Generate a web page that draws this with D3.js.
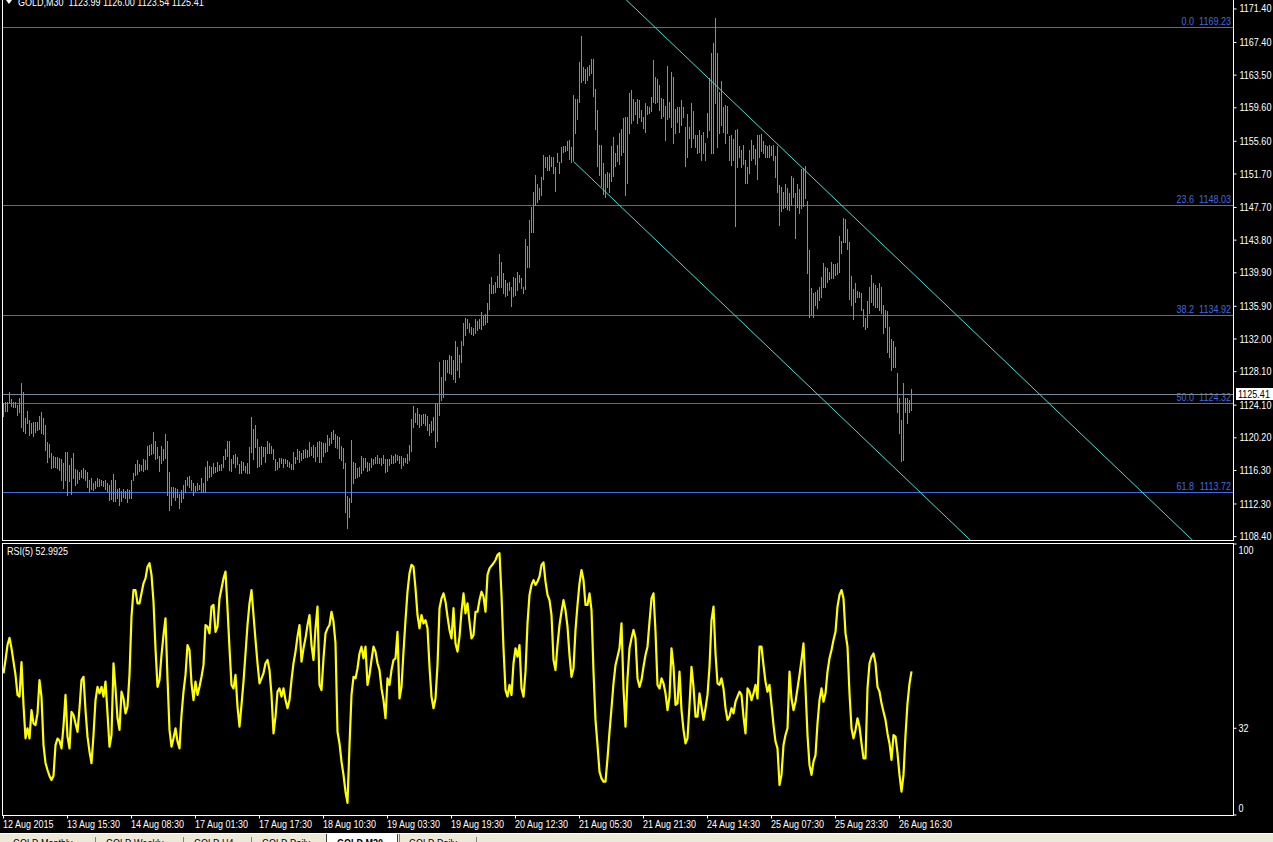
<!DOCTYPE html>
<html><head><meta charset="utf-8">
<script src="https://cdn.jsdelivr.net/npm/d3@7"></script>
<style>
html,body{margin:0;padding:0;background:#000;overflow:hidden}
svg{display:block}
text{font-family:"Liberation Sans",Arial,sans-serif;font-size:11px}
</style></head><body><svg id="c" width="1273" height="842"></svg>
<script>
const symbol="GOLD,M30";
const ohlc=["1123.99","1126.00","1123.54","1125.41"];
const bidPrice=1125.41;
const rsiTitle="RSI(5) 52.9925";
const highs=[
1124.32,1124.44,1124.52,1125.67,1124.84,1124.52,1124.52,1124.12,1124.92,1126.71,
1125.67,1122.61,1123.40,1122.33,1121.93,1122.05,1122.05,1122.13,1122.81,1123.29,
1122.53,1121.73,1119.74,1119.46,1118.43,1118.03,1117.87,1117.87,1117.75,1117.63,
1117.24,1118.55,1118.51,1116.96,1117.75,1118.43,1116.48,1116.36,1116.16,1116.36,
1116.56,1116.36,1116.16,1115.17,1115.44,1114.85,1115.09,1115.40,1115.25,1115.17,
1115.05,1115.17,1114.85,1114.57,1115.17,1115.84,1115.17,1114.05,1114.17,1113.89,
1114.05,1113.89,1114.09,1113.97,1115.17,1116.04,1117.08,1117.55,1117.04,1116.96,
1117.67,1117.55,1119.23,1119.35,1119.46,1120.90,1119.86,1119.15,1118.03,1119.23,
1118.87,1120.66,1119.82,1116.16,1114.37,1114.29,1114.21,1114.05,1113.49,1113.97,
1114.57,1115.17,1115.56,1115.64,1115.17,1114.77,1114.45,1114.85,1114.57,1115.37,
1114.77,1116.68,1117.43,1116.84,1116.76,1117.24,1116.76,1117.28,1116.96,1117.04,
1118.03,1118.87,1119.82,1119.82,1117.63,1118.15,1118.27,1117.87,1117.04,1117.47,
1117.36,1116.84,1117.24,1119.15,1122.69,1121.22,1121.73,1120.06,1119.15,1119.27,
1119.15,1119.07,1119.82,1119.54,1119.23,1118.87,1117.67,1117.36,1117.79,1117.83,
1117.71,1117.63,1117.55,1117.36,1117.08,1118.55,1117.87,1118.87,1118.59,1118.43,
1118.75,1118.83,1118.75,1119.70,1119.15,1119.35,1119.07,1119.74,1119.82,1119.74,
1119.54,1119.62,1120.54,1120.22,1120.86,1121.14,1120.62,1120.46,1120.34,1119.23,
1119.03,1117.24,1113.26,1113.06,1119.94,1117.36,1117.24,1116.56,1116.76,1118.07,
1117.75,1117.75,1117.36,1117.16,1117.75,1117.67,1117.95,1118.15,1117.83,1117.75,
1118.15,1117.63,1117.63,1117.63,1118.15,1118.03,1118.27,1118.15,1118.03,1118.03,
1117.83,1117.75,1118.27,1119.35,1122.41,1124.00,1123.20,1123.80,1123.04,1122.92,
1123.04,1123.04,1122.81,1121.85,1122.21,1122.73,1124.32,1124.32,1129.25,1127.50,
1129.49,1129.49,1129.49,1130.09,1129.97,1129.49,1131.76,1131.08,1130.09,1131.76,
1133.95,1134.47,1134.35,1133.95,1133.39,1133.27,1134.35,1134.19,1134.35,1135.18,
1134.79,1134.98,1136.26,1138.53,1139.44,1138.45,1138.85,1139.56,1142.15,1141.23,
1139.92,1139.04,1138.73,1138.85,1138.25,1139.44,1139.32,1139.96,1139.68,1139.32,
1138.25,1143.94,1143.10,1146.21,1147.72,1149.59,1151.58,1150.51,1149.99,1151.38,
1153.97,1153.77,1153.77,1153.97,1153.77,1153.77,1152.58,1154.25,1153.18,1154.97,
1155.05,1155.05,1155.68,1155.76,1154.97,1161.14,1160.70,1160.66,1165.12,1168.22,
1164.52,1164.20,1164.52,1164.72,1165.39,1165.47,1161.81,1159.34,1155.17,1155.17,
1152.98,1151.70,1151.98,1151.78,1155.09,1156.16,1154.17,1155.17,1156.64,1157.04,
1158.35,1158.55,1158.55,1161.33,1161.73,1160.62,1160.34,1160.66,1160.54,1159.34,
1158.47,1160.14,1159.82,1159.66,1160.94,1165.31,1163.24,1163.01,1162.33,1160.78,
1160.62,1159.86,1164.60,1160.34,1163.92,1163.32,1159.42,1159.66,1159.66,1160.54,
1159.66,1157.27,1158.87,1157.35,1160.22,1159.22,1156.36,1156.36,1156.96,1156.36,
1156.76,1155.44,1159.03,1163.12,1166.19,1167.38,1170.30,1166.19,1161.53,1162.85,
1159.66,1159.90,1159.82,1156.24,1156.36,1155.84,1156.96,1157.08,1155.05,1154.57,
1155.13,1153.37,1152.50,1154.57,1155.76,1155.17,1154.65,1156.36,1156.36,1156.48,
1155.68,1155.13,1155.05,1155.17,1155.00,1155.20,1153.85,1155.00,1150.39,1150.19,
1149.60,1150.51,1149.99,1149.40,1151.47,1151.19,1149.40,1150.51,1149.87,1152.30,
1152.38,1152.66,1148.52,1142.63,1138.05,1137.54,1137.66,1137.85,1138.25,1139.45,
1141.04,1140.64,1140.44,1140.04,1141.16,1140.96,1140.96,1141.04,1144.30,1143.74,
1146.41,1146.29,1145.10,1143.62,1139.53,1137.93,1138.65,1137.77,1137.66,1137.54,
1135.55,1134.55,1136.58,1138.17,1139.65,1138.73,1138.45,1138.05,1138.65,1138.17,
1136.06,1135.47,1135.39,1133.40,1131.96,1131.76,1131.09,1127.98,1124.92,1122.33,
1126.71,1124.92,1124.92,1124.72,1126.00];
const lows=[
1122.85,1123.44,1123.44,1124.52,1124.04,1123.92,1123.84,1122.93,1123.33,1121.53,
1121.02,1120.74,1121.93,1120.54,1120.74,1120.46,1120.94,1121.14,1121.22,1120.82,
1120.66,1118.75,1117.36,1117.87,1116.56,1116.76,1116.76,1116.64,1116.36,1115.17,
1114.25,1115.17,1113.38,1115.09,1113.49,1115.37,1114.57,1114.85,1115.25,1115.48,
1115.37,1115.17,1114.29,1113.69,1114.09,1113.97,1114.17,1114.49,1114.45,1114.57,
1114.45,1114.05,1113.89,1112.78,1112.90,1112.70,1112.66,1112.98,1112.18,1112.70,
1113.18,1112.98,1112.58,1112.98,1113.06,1115.17,1115.76,1115.88,1116.24,1116.36,
1116.28,1116.52,1116.44,1118.11,1118.23,1118.35,1117.63,1117.75,1116.28,1117.24,
1117.55,1117.75,1113.38,1111.58,1112.18,1113.18,1112.78,1113.10,1111.78,1112.58,
1112.98,1113.77,1114.57,1114.37,1113.97,1113.38,1113.89,1113.97,1114.09,1113.77,
1113.69,1113.77,1115.17,1115.48,1115.64,1115.96,1116.16,1116.24,1116.36,1116.36,
1116.76,1117.63,1118.03,1116.36,1116.24,1117.24,1116.76,1117.08,1115.96,1115.96,
1116.36,1116.16,1115.96,1116.04,1118.55,1117.67,1119.07,1116.76,1116.84,1117.04,
1118.03,1117.36,1118.43,1118.43,1118.43,1117.63,1116.36,1116.44,1116.76,1117.24,
1116.76,1117.16,1116.84,1116.76,1116.48,1116.44,1117.24,1117.63,1117.36,1117.55,
1117.75,1117.87,1117.87,1118.03,1118.15,1117.95,1117.47,1118.03,1117.36,1117.36,
1118.03,1118.55,1118.67,1119.35,1119.54,1120.02,1119.07,1119.03,1117.75,1117.55,
1116.56,1111.39,1109.47,1110.79,1112.58,1114.77,1115.37,1115.48,1115.64,1115.96,
1116.36,1116.68,1116.24,1116.36,1116.76,1117.04,1117.24,1117.24,1117.24,1116.96,
1117.24,1116.16,1116.28,1116.96,1117.24,1117.24,1117.36,1117.55,1117.24,1116.64,
1116.96,1117.36,1117.24,1117.55,1118.67,1121.45,1122.13,1121.85,1121.53,1121.73,
1121.93,1121.73,1121.13,1120.54,1120.94,1121.13,1119.06,1119.86,1122.92,1124.72,
1125.03,1127.10,1128.02,1127.98,1127.82,1127.18,1126.91,1128.30,1127.50,1129.29,
1131.28,1132.48,1133.27,1132.87,1132.60,1132.48,1132.76,1133.07,1133.27,1133.19,
1133.67,1133.75,1133.99,1135.58,1137.45,1137.53,1137.65,1138.25,1138.25,1138.25,
1137.45,1137.13,1137.25,1137.85,1135.94,1137.13,1137.25,1137.85,1138.85,1138.05,
1137.53,1137.93,1140.64,1140.64,1144.82,1144.82,1148.00,1148.40,1148.72,1149.19,
1151.07,1152.58,1152.18,1152.18,1152.66,1151.78,1149.71,1153.18,1151.78,1153.18,
1154.37,1154.45,1154.57,1153.45,1153.18,1153.37,1156.56,1158.27,1160.34,1162.73,
1162.93,1162.61,1162.93,1163.52,1163.72,1161.02,1157.04,1152.66,1151.58,1150.27,
1149.27,1149.00,1150.11,1149.59,1150.91,1151.46,1152.66,1153.25,1152.90,1153.93,
1154.37,1149.20,1150.67,1156.56,1157.83,1158.15,1158.87,1157.83,1158.55,1158.07,
1157.16,1156.76,1158.83,1158.95,1159.26,1160.34,1160.22,1160.34,1159.34,1158.35,
1158.63,1155.76,1158.31,1158.47,1157.35,1155.44,1156.64,1157.95,1156.76,1157.55,
1158.55,1152.66,1153.77,1156.00,1154.89,1155.96,1154.97,1154.17,1154.37,1153.37,
1154.25,1153.37,1156.16,1156.96,1154.17,1154.25,1160.14,1154.97,1156.56,1157.55,
1156.76,1155.36,1156.56,1153.37,1152.78,1153.37,1145.50,1152.58,1153.77,1152.58,
1152.90,1150.67,1150.67,1151.78,1153.37,1153.57,1152.86,1151.07,1153.77,1154.49,
1154.25,1153.77,1153.77,1153.77,1153.97,1153.38,1151.39,1149.60,1145.61,1147.33,
1147.61,1147.80,1147.49,1147.41,1148.00,1149.00,1144.10,1147.80,1147.09,1147.61,
1147.88,1148.80,1139.92,1134.59,1134.87,1134.67,1136.06,1135.66,1136.66,1137.06,
1138.17,1138.17,1138.85,1139.13,1139.25,1139.25,1139.65,1139.77,1140.04,1142.31,
1143.62,1143.62,1142.75,1136.74,1136.06,1134.39,1136.46,1137.06,1137.06,1135.47,
1133.56,1133.20,1133.40,1135.07,1136.46,1136.06,1135.86,1135.78,1135.47,1135.07,
1132.76,1133.48,1130.49,1129.89,1128.30,1128.70,1128.70,1123.33,1120.82,1117.48,
1117.56,1123.33,1121.93,1123.33,1123.54];
const rsi=[
52.3,57.2,62.7,65.4,61.5,56.6,51.7,44.3,43.7,56.4,
40.6,28.3,32.0,28.3,38.7,33.8,33.2,37.5,49.8,43.6,
25.8,19.2,16.6,14.4,12.9,14.5,25.8,28.2,27.4,24.6,
32.8,44.3,28.9,24.6,38.1,36.9,33.8,30.7,39.4,49.8,
51.0,38.7,28.9,23.4,19.1,29.5,42.4,47.3,44.9,47.3,
43.7,49.2,37.5,25.2,29.5,56.0,46.7,35.7,31.4,45.5,
43.0,37.5,40.0,51.7,73.2,83.0,83.0,78.1,78.1,81.8,
85.5,87.3,91.6,92.9,88.6,78.7,61.5,47.3,49.8,59.0,
66.4,72.6,50.4,31.4,25.2,28.3,32.0,27.1,24.6,36.9,
45.5,51.7,62.7,60.9,48.6,42.4,49.2,44.3,47.3,51.0,
55.3,70.1,69.5,67.0,76.9,77.5,67.6,69.5,79.9,83.6,
87.3,89.8,76.3,61.5,48.0,46.7,51.7,40.0,32.6,40.6,
49.2,59.6,70.1,78.1,83.0,73.8,64.6,56.0,48.6,50.4,
52.3,56.0,57.2,53.5,44.3,30.1,36.3,45.5,46.7,43.7,
46.7,42.4,39.4,42.4,49.8,56.0,60.3,65.8,70.1,56.6,
61.5,65.2,70.1,73.8,62.7,57.2,68.9,76.9,48.0,46.1,
57.8,67.0,68.9,70.1,75.0,71.3,63.3,30.7,26.4,19.7,
14.8,8.6,4.5,25.8,44.3,51.0,50.4,54.1,59.6,62.1,
57.8,62.1,48.0,51.7,57.2,62.1,60.3,56.0,53.5,46.7,
42.4,35.7,50.4,48.0,53.5,57.2,57.8,67.6,43.0,47.3,
60.3,71.9,82.4,89.2,92.3,91.6,83.6,73.8,68.9,73.8,
70.7,71.9,68.9,54.7,43.7,39.4,43.0,55.3,76.3,79.9,
81.8,78.7,73.2,68.3,65.2,76.3,63.3,60.3,65.8,75.0,
81.8,74.4,78.1,71.3,65.2,66.4,75.0,75.0,79.3,82.4,
80.6,75.0,88.6,91.0,92.0,92.9,94.1,96.0,96.6,81.2,
61.5,46.1,43.7,48.0,44.3,56.0,61.5,58.4,62.7,46.7,
43.7,52.9,70.7,81.2,84.9,86.7,84.9,86.1,88.0,92.3,
93.2,86.1,81.2,79.3,73.8,57.2,53.5,62.7,70.1,75.0,
79.3,75.6,69.5,59.0,51.0,54.1,68.3,77.5,85.5,90.4,
86.7,77.5,77.5,81.8,75.6,52.9,35.1,25.8,16.0,13.5,
12.3,12.3,20.9,30.7,39.4,48.6,55.3,58.4,61.5,70.7,
46.7,32.6,50.4,61.5,65.2,68.3,65.2,50.4,47.3,49.8,
54.7,59.0,62.1,71.3,79.9,81.8,67.6,48.0,46.7,50.4,
48.6,44.9,38.7,43.7,61.5,54.7,40.6,41.2,52.9,38.7,
31.4,26.4,28.3,40.6,54.7,47.3,36.3,36.3,44.9,40.0,
35.1,39.4,44.3,54.7,71.9,76.9,59.6,48.6,48.0,50.4,
46.7,39.4,35.1,36.3,39.4,37.5,41.8,43.7,45.5,44.3,
36.3,30.1,46.7,45.5,42.4,44.9,48.0,43.0,62.1,62.1,
55.3,49.2,45.5,48.0,40.6,33.2,27.1,24.6,11.1,14.8,
25.8,29.5,32.0,52.9,43.0,38.7,41.8,46.7,51.7,57.2,
63.3,46.7,29.5,18.4,14.8,19.7,22.1,33.8,42.4,46.7,
41.8,44.9,52.9,57.8,60.9,64.6,67.6,76.9,81.2,83.0,
79.9,67.0,62.1,44.9,32.0,28.3,31.4,35.7,32.6,26.4,
20.9,20.9,46.7,56.0,58.4,59.6,56.0,47.3,45.5,41.2,
38.1,35.1,30.1,26.4,20.3,29.5,28.9,22.8,14.8,8.6,
14.8,29.5,41.2,48.5,52.99];
const priceTicks=[1171.40,1167.40,1163.50,1159.60,1155.60,1151.70,1147.70,1143.80,1139.90,1135.90,1132.00,1128.10,1124.10,1120.20,1116.30,1112.30,1108.40];
const rsiTicks=[100,32,0];
const timeLabels=["12 Aug 2015","13 Aug 15:30","14 Aug 08:30","17 Aug 01:30","17 Aug 17:30","18 Aug 10:30","19 Aug 03:30","19 Aug 19:30","20 Aug 12:30","21 Aug 05:30","21 Aug 21:30","24 Aug 14:30","25 Aug 07:30","25 Aug 23:30","26 Aug 16:30"];
const timeLabelBars=[0,32,64,96,128,160,192,224,256,288,320,352,384,416,448];
const fibLevels=["0.0","23.6","38.2","50.0","61.8"];
const fibPrices=[1169.23,1148.03,1134.92,1124.32,1113.72];
const channelBars=[285,455];
const channelPrices=[1153.2,1114.46];
const channelWidth=25.3;
const tabs=["GOLD,Monthly","GOLD,Weekly","GOLD,H4","GOLD,Daily","GOLD,M30","GOLD,Daily"];
const activeTab=4;

const SX=0.82; // horizontal condensing of the MT4-like font
const C={bar:"#32cd32",fib:"#4169e1",bid:"#778899",chan:"#40e0d0",rsi:"#ffff00",txt:"#ffffff"};
const svg=d3.select("#c");
svg.append("rect").attr("width",1273).attr("height",842).attr("fill","#000");

const x=d3.scaleLinear().domain([0,615]).range([3.5,1233.5]);
const y=d3.scaleLinear().domain([1108.0,1172.47]).range([540,0]);
const yr=d3.scaleLinear().domain([0,100]).range([815,544]);
const px=v=>Math.round(v)+0.5;

const defs=svg.append("defs");
defs.append("clipPath").attr("id","cm").append("rect").attr("x",3).attr("y",0).attr("width",1230).attr("height",540);
defs.append("clipPath").attr("id","cr").append("rect").attr("x",3).attr("y",544).attr("width",1230).attr("height",271);

const gm=svg.append("g").attr("clip-path","url(#cm)");
fibPrices.forEach((p,k)=>{
  gm.append("line").attr("x1",3).attr("x2",1233).attr("y1",px(y(p))).attr("y2",px(y(p))).attr("stroke",C.fib).attr("stroke-width",1);
  const ty=Math.round(y(p))-2;
  gm.append("text").attr("x",1231).attr("y",ty).attr("text-anchor","end").attr("fill",C.fib).text(p.toFixed(2));
  gm.append("text").attr("x",1194).attr("y",ty).attr("text-anchor","end").attr("fill",C.fib).text(fibLevels[k]);
});
gm.append("line").attr("x1",3).attr("x2",1233).attr("y1",px(y(bidPrice))).attr("y2",px(y(bidPrice))).attr("stroke",C.bid);
gm.selectAll("rect.bar").data(highs).enter().append("rect").attr("class","bar")
  .attr("x",(d,i)=>Math.round(x(i)-0.5)).attr("width",1)
  .attr("y",d=>Math.round(y(d)))
  .attr("height",(d,i)=>Math.max(1,Math.round(y(lows[i]))-Math.round(y(d))+1))
  .attr("fill",C.bar).attr("shape-rendering","crispEdges");
const slope=(channelPrices[1]-channelPrices[0])/(channelBars[1]-channelBars[0]);
const endBar=640;
[0,channelWidth].forEach(off=>{
  gm.append("line")
    .attr("x1",x(channelBars[0])).attr("y1",y(channelPrices[0]+off))
    .attr("x2",x(endBar)).attr("y2",y(channelPrices[0]+off+slope*(endBar-channelBars[0])))
    .attr("stroke",C.chan).attr("stroke-width",1);
});

const gr=svg.append("g").attr("clip-path","url(#cr)");
gr.append("path").datum(rsi).attr("fill","none").attr("stroke",C.rsi).attr("stroke-width",2.2).attr("stroke-linejoin","round")
  .attr("d",d3.line().x((d,i)=>x(i)).y(d=>yr(d)));

const bl=(x1,y1,x2,y2)=>svg.append("line").attr("x1",x1).attr("y1",y1).attr("x2",x2).attr("y2",y2).attr("stroke","#fff").attr("stroke-width",1);
bl(2.5,0,2.5,540);bl(1233.5,0,1233.5,541);bl(2,540.5,1234,540.5);
bl(2.5,543,2.5,816);bl(1233.5,543,1233.5,816);bl(2,543.5,1234,543.5);bl(2,815.5,1234,815.5);

const ay=svg.append("g").attr("transform","translate(1233.5,0)")
  .call(d3.axisRight(y).tickValues(priceTicks).tickSize(3).tickPadding(3).offset(0).tickFormat(d3.format(".2f")));
ay.select(".domain").remove();
ay.selectAll("line").attr("stroke","#fff");
ay.selectAll("text").attr("fill",C.txt);
const by=Math.round(y(bidPrice));
svg.append("rect").attr("x",1236).attr("y",by-6).attr("width",37).attr("height",12).attr("fill","#fff");
svg.append("text").attr("x",1238).attr("y",by+4).attr("fill","#000").text(bidPrice.toFixed(2));

const ar=svg.append("g").attr("transform","translate(1233.5,0)")
  .call(d3.axisRight(yr).tickValues(rsiTicks).tickSize(3).tickPadding(2).offset(0));
ar.select(".domain").remove();
ar.selectAll("line").attr("stroke","#fff");
ar.selectAll("text").attr("fill",C.txt)
  .attr("dy",d=>d===100?"0.9em":(d===0?"-0.3em":"0.32em"));

const at=svg.append("g").attr("transform","translate(0,815.5)")
  .call(d3.axisBottom(x).tickValues(timeLabelBars).tickSize(3).offset(0).tickFormat((d,i)=>timeLabels[i]));
at.select(".domain").remove();
at.selectAll("line").attr("stroke","#fff");
at.selectAll("text").attr("fill",C.txt).attr("text-anchor","start").attr("x",-0.5).attr("y",5);

[ay,ar,at].forEach(a=>a.attr("font-family",null).attr("font-size",null));

svg.append("path").attr("d","M6,0 L12,0 L9,4 Z").attr("fill","#fff");
svg.append("text").attr("x",18).attr("y",6).attr("fill",C.txt).attr("xml:space","preserve").text(symbol+"  "+ohlc.join(" "));
svg.append("text").attr("x",7).attr("y",555).attr("fill",C.txt).text(rsiTitle);

svg.append("rect").attr("x",0).attr("y",833).attr("width",1273).attr("height",1).attr("fill","#fff");
svg.append("rect").attr("x",0).attr("y",834).attr("width",1273).attr("height",8).attr("fill","#ece9d8");
const tabX=[13,106,194,262,337,409];
[95,183,251].forEach(s=>svg.append("rect").attr("x",s).attr("y",837).attr("width",1).attr("height",5).attr("fill","#808080"));
svg.append("rect").attr("x",326).attr("y",834).attr("width",72).attr("height",8).attr("fill","#fff");
svg.append("rect").attr("x",326).attr("y",834).attr("width",1).attr("height",8).attr("fill","#404040");
svg.append("rect").attr("x",397).attr("y",834).attr("width",1).attr("height",8).attr("fill","#404040");
svg.append("rect").attr("x",399).attr("y",834).attr("width",1).attr("height",8).attr("fill","#808080");
svg.append("rect").attr("x",476).attr("y",837).attr("width",1).attr("height",5).attr("fill","#808080");
tabs.forEach((t,k)=>svg.append("text").attr("x",tabX[k]).attr("y",847).attr("fill","#000")
  .attr("font-weight",k===activeTab?"bold":"normal").text(t));

// condense every text horizontally (MT4 bitmap font is narrow)
svg.selectAll("text").each(function(){
  const t=d3.select(this);
  const xx=+(t.attr("x")||0);
  t.attr("x",xx/SX).attr("transform","scale("+SX+",1)");
});
</script></body></html>
